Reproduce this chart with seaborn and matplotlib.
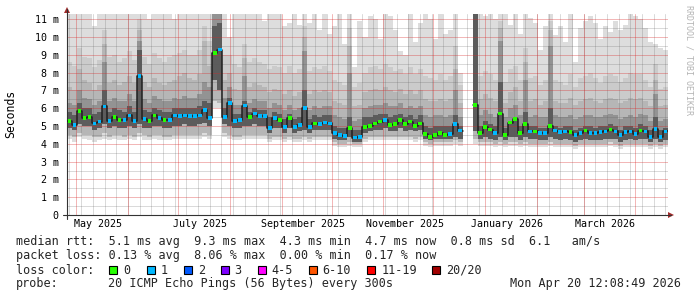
import numpy as np
import pandas as pd
import matplotlib
matplotlib.use("Agg")
import matplotlib.pyplot as plt
import matplotlib.dates as mdates
from matplotlib.patches import Polygon, Rectangle
from matplotlib.lines import Line2D
import seaborn as sns

nan = np.nan

# ---- data (milliseconds), one value per 3-day bin ----
median_ms = [5.3, 5.05, 5.85, 5.45, 5.5, 5.15, 5.25, 6.1, 5.3, 5.5,
             5.35, 5.35, 5.6, 5.3, 7.8, 5.4, 5.3, 5.6, 5.45, 5.35,
             5.35, 5.6, 5.55, 5.6, 5.55, 5.55, 5.6, 5.9, 5.45, 9.1,
             9.3, 5.5, 6.3, 5.3, 5.35, 6.15, 5.5, 5.7, 5.55, 5.55,
             4.9, 5.45, 5.35, 4.95, 5.45, 4.95, 5.05, 6.0, 4.95, 5.15,
             5.1, 5.2, 5.15, 4.6, 4.5, 4.45, 4.9, 4.35, 4.4, 4.95,
             5.0, 5.15, 5.25, 5.33, 5.05, 5.1, 5.35, 5.1, 5.25, 5.0,
             5.15, 4.55, 4.4, 4.5, 4.6, 4.5, 4.55, 5.1, 4.75, nan,
             nan, 6.2, 4.6, 4.95, 4.8, 4.6, 5.7, 4.5, 5.2, 5.4,
             4.6, 5.1, 4.7, 4.7, 4.6, 4.6, 5.0, 4.75, 4.65, 4.7,
             4.65, 4.5, 4.6, 4.75, 4.6, 4.6, 4.65, 4.7, 4.8, 4.7,
             4.5, 4.65, 4.7, 4.55, 4.75, 4.7, 4.4, 4.85, 4.4, 4.7]

loss_pings = [0, 1, 0, 0, 0, 1, 1, 1, 1, 0,
              0, 1, 1, 1, 1, 1, 0, 0, 1, 0,
              1, 1, 1, 1, 1, 1, 1, 1, 1, 0,
              1, 1, 1, 1, 1, 1, 0, 1, 1, 1,
              1, 1, 0, 1, 0, 1, 1, 1, 1, 0,
              1, 1, 1, 1, 1, 1, 0, 1, 1, 0,
              0, 0, 0, 1, 0, 0, 0, 0, 0, 0,
              0, 0, 0, 0, 0, 0, 1, 1, 1, 0,
              0, 0, 0, 0, 0, 1, 0, 0, 0, 0,
              0, 0, 1, 0, 1, 1, 0, 1, 1, 1,
              0, 1, 1, 0, 1, 1, 1, 1, 0, 1,
              1, 1, 1, 1, 0, 1, 1, 1, 1, 1]

# smoke: bottom edges
ping_min = [4.3, 4.1, 4.4, 4.3, 4.2, 4.1, 4.2, 4.3, 4.2, 4.3,
            4.2, 4.2, 4.3, 4.2, 4.4, 4.2, 4.2, 4.3, 4.2, 4.2,
            4.2, 4.3, 4.3, 4.3, 4.3, 4.3, 4.3, 4.4, 4.3, 6.0,
            6.0, 4.4, 4.3, 4.2, 4.2, 4.3, 4.3, 4.3, 4.3, 4.3,
            4.1, 4.2, 4.2, 4.1, 4.2, 4.1, 4.1, 4.2, 4.1, 4.2,
            4.2, 4.2, 4.2, 3.9, 3.8, 3.8, 3.9, 3.8, 3.8, 4.1,
            4.2, 4.2, 4.2, 4.2, 4.2, 4.2, 4.2, 4.2, 4.2, 4.1,
            4.2, 3.9, 3.8, 3.9, 3.9, 3.9, 3.9, 4.0, 3.9, nan,
            nan, 4.0, 3.9, 3.9, 3.9, 3.8, 3.9, 3.8, 3.9, 3.9,
            3.8, 3.9, 3.8, 3.8, 3.8, 3.8, 3.9, 3.8, 3.8, 3.8,
            3.8, 3.7, 3.8, 3.8, 3.8, 3.8, 3.8, 3.8, 3.9, 3.8,
            3.7, 3.8, 3.8, 3.8, 3.8, 3.8, 3.7, 3.8, 3.7, 3.8]
low_mid = [4.5, 4.4, 4.6, 4.5, 4.5, 4.4, 4.4, 4.6, 4.4, 4.5,
           4.5, 4.4, 4.5, 4.4, 4.6, 4.5, 4.4, 4.5, 4.5, 4.4,
           4.4, 4.5, 4.5, 4.5, 4.5, 4.5, 4.5, 4.6, 4.5, 6.4,
           6.3, 4.6, 4.5, 4.4, 4.4, 4.5, 4.5, 4.5, 4.5, 4.5,
           4.3, 4.4, 4.4, 4.3, 4.4, 4.3, 4.3, 4.4, 4.3, 4.4,
           4.4, 4.4, 4.4, 4.1, 4.0, 4.0, 4.1, 4.0, 4.0, 4.3,
           4.4, 4.4, 4.4, 4.4, 4.4, 4.4, 4.4, 4.4, 4.4, 4.3,
           4.4, 4.1, 4.0, 4.1, 4.1, 4.1, 4.1, 4.2, 4.1, nan,
           nan, 4.3, 4.1, 4.1, 4.1, 4.0, 4.1, 4.0, 4.1, 4.1,
           4.0, 4.1, 4.0, 4.0, 4.0, 4.0, 4.1, 4.0, 4.0, 4.0,
           4.0, 3.9, 4.0, 4.0, 4.0, 4.0, 4.0, 4.0, 4.1, 4.0,
           3.9, 4.0, 4.0, 4.0, 4.0, 4.0, 3.9, 4.0, 3.9, 4.0]
low_dark = [4.9, 4.8, 5.1, 5.0, 5.0, 4.8, 4.9, 5.1, 4.9, 5.0,
            4.9, 4.9, 5.0, 4.9, 5.1, 4.9, 4.9, 5.0, 5.0, 4.9,
            4.9, 5.0, 5.0, 5.1, 5.0, 5.0, 5.1, 5.2, 5.0, 7.6,
            7.0, 5.1, 5.0, 4.9, 4.9, 5.0, 5.0, 5.1, 5.0, 5.0,
            4.6, 4.9, 4.9, 4.6, 4.9, 4.6, 4.7, 4.8, 4.6, 4.8,
            4.8, 4.8, 4.8, 4.3, 4.2, 4.2, 4.4, 4.1, 4.1, 4.6,
            4.7, 4.8, 4.8, 4.9, 4.7, 4.7, 4.9, 4.7, 4.8, 4.7,
            4.8, 4.3, 4.2, 4.3, 4.3, 4.3, 4.3, 4.4, 4.3, nan,
            nan, 4.7, 4.3, 4.4, 4.3, 4.2, 4.4, 4.2, 4.4, 4.4,
            4.2, 4.4, 4.3, 4.3, 4.2, 4.2, 4.4, 4.3, 4.2, 4.3,
            4.2, 4.1, 4.2, 4.3, 4.2, 4.2, 4.2, 4.3, 4.3, 4.3,
            4.1, 4.2, 4.3, 4.2, 4.3, 4.3, 4.1, 4.3, 4.1, 4.2]
# smoke: top edges
high_dark = [5.8, 5.6, 6.3, 6.0, 6.0, 5.7, 5.8, 7.0, 5.8, 6.0,
             5.9, 5.8, 6.1, 5.8, 9.3, 5.9, 5.8, 6.0, 5.9, 5.8,
             5.8, 6.0, 6.0, 6.0, 6.0, 6.0, 6.1, 6.4, 6.3, 10.6,
             10.8, 6.0, 6.6, 5.7, 5.7, 6.4, 5.8, 6.0, 5.9, 5.9,
             5.5, 5.8, 5.7, 5.4, 5.7, 5.4, 5.5, 7.0, 5.4, 5.6,
             5.5, 5.6, 5.6, 5.0, 4.9, 4.9, 5.5, 4.8, 4.8, 5.5,
             5.5, 5.6, 5.7, 5.7, 5.5, 5.6, 5.7, 5.5, 5.6, 5.4,
             5.6, 5.0, 4.9, 5.0, 5.0, 5.0, 5.0, 5.6, 5.0, nan,
             nan, 11.3, 5.0, 5.3, 5.1, 5.0, 7.5, 4.9, 5.3, 5.5,
             5.0, 5.8, 5.0, 5.0, 4.9, 4.9, 6.0, 5.0, 4.9, 5.0,
             5.0, 4.8, 4.9, 5.0, 5.0, 4.9, 5.0, 5.0, 5.1, 5.0,
             4.8, 5.0, 5.0, 4.9, 5.1, 5.0, 4.8, 5.5, 4.8, 4.9]
high_mid = [6.3, 6.2, 7.0, 6.6, 6.5, 6.2, 6.4, 8.6, 6.4, 6.6,
            6.4, 6.4, 6.8, 6.4, 9.8, 6.5, 6.3, 6.7, 6.5, 6.4,
            6.4, 6.6, 6.5, 6.7, 6.6, 6.6, 6.8, 7.5, 7.2, 11.3,
            11.3, 6.6, 7.2, 6.2, 6.2, 7.8, 6.3, 6.5, 6.4, 6.4,
            6.0, 6.3, 6.2, 5.9, 6.2, 5.9, 6.0, 9.2, 5.9, 6.1,
            6.0, 6.1, 6.1, 5.6, 5.5, 5.4, 8.0, 5.3, 5.4, 6.0,
            6.1, 6.2, 6.2, 6.3, 6.1, 6.1, 6.3, 6.0, 6.1, 6.0,
            6.1, 5.6, 5.5, 5.6, 5.6, 5.5, 5.6, 7.0, 5.5, nan,
            nan, 11.3, 5.6, 5.9, 5.7, 5.5, 9.8, 5.5, 6.0, 6.2,
            5.6, 7.6, 5.5, 5.6, 5.5, 5.5, 9.5, 5.6, 5.5, 5.5,
            5.6, 5.4, 5.5, 5.6, 5.6, 5.5, 5.5, 5.6, 5.7, 5.6,
            5.4, 5.5, 5.6, 5.5, 5.7, 5.6, 5.3, 6.8, 5.3, 5.4]
high_grey = [7.2, 7.0, 8.2, 7.6, 7.4, 7.0, 7.3, 9.6, 7.4, 7.6,
             7.3, 7.5, 7.8, 7.4, 10.4, 7.5, 7.2, 7.7, 7.4, 7.3,
             7.5, 7.6, 7.8, 8.0, 7.7, 7.6, 7.9, 9.8, 8.4, 11.3,
             11.3, 7.6, 8.0, 7.1, 7.0, 8.8, 7.2, 7.4, 7.3, 7.2,
             6.9, 7.1, 7.0, 6.8, 7.0, 6.7, 6.9, 10.0, 6.8, 7.0,
             6.9, 7.0, 6.9, 6.4, 6.3, 6.2, 9.5, 6.1, 6.2, 6.9,
             7.0, 7.1, 7.0, 7.2, 7.0, 6.9, 7.1, 6.8, 7.0, 6.8,
             7.0, 6.5, 6.4, 6.4, 6.5, 6.4, 6.5, 8.2, 6.3, nan,
             nan, 11.3, 6.5, 6.8, 6.6, 6.4, 10.5, 6.3, 6.9, 7.2,
             6.4, 8.6, 6.4, 6.5, 6.2, 6.4, 10.4, 6.4, 6.3, 6.3,
             6.6, 6.2, 6.4, 6.5, 6.6, 6.4, 6.3, 6.5, 6.6, 6.5,
             6.3, 6.4, 6.6, 6.5, 6.6, 6.4, 6.1, 7.6, 6.1, 6.2]
high_light = [8.6, 8.4, 9.4, 8.9, 8.8, 8.3, 8.7, 10.4, 8.9, 9.0,
              8.6, 8.8, 9.2, 8.7, 11.0, 8.9, 8.5, 9.1, 8.8, 8.6,
              8.9, 9.0, 9.1, 9.3, 9.0, 9.0, 9.3, 10.6, 9.8, 11.3,
              11.3, 9.0, 9.0, 8.5, 8.3, 9.6, 8.6, 8.8, 8.6, 8.5,
              8.2, 8.4, 8.3, 8.0, 8.4, 8.0, 8.2, 10.6, 8.1, 8.3,
              8.2, 8.4, 8.1, 7.6, 7.5, 7.3, 10.5, 7.2, 7.4, 8.0,
              8.3, 8.4, 8.2, 8.5, 8.3, 8.1, 8.2, 7.9, 8.3, 7.9,
              8.2, 7.8, 7.7, 7.6, 7.9, 7.6, 7.8, 9.5, 7.3, nan,
              nan, 11.3, 7.8, 8.1, 7.9, 7.6, 10.9, 7.5, 8.2, 8.4,
              7.6, 9.4, 7.7, 7.8, 7.3, 7.6, 10.9, 7.6, 7.5, 7.3,
              7.9, 7.2, 7.7, 7.8, 8.0, 7.7, 7.4, 7.8, 7.9, 7.8,
              7.5, 7.7, 8.0, 7.9, 7.9, 7.6, 7.2, 8.5, 7.1, 7.2]
ping_max = [11.3, 11.3, 11.3, 11.3, 11.3, 10.6, 11.3, 11.3, 11.3, 11.3,
            11.3, 11.3, 11.3, 11.3, 11.3, 11.3, 11.0, 11.3, 11.3, 11.3,
            11.3, 11.0, 11.3, 11.3, 11.3, 11.3, 11.3, 11.3, 11.3, 11.3,
            11.3, 11.3, 10.0, 11.3, 11.3, 11.3, 11.3, 11.3, 11.3, 10.9,
            11.3, 11.3, 11.3, 10.6, 10.8, 11.3, 10.7, 11.3, 10.8, 11.3,
            10.4, 11.3, 10.2, 10.6, 11.3, 9.6, 11.3, 8.3, 10.9, 10.0,
            11.2, 11.0, 9.9, 11.3, 11.2, 10.4, 9.2, 9.0, 11.3, 9.7,
            10.8, 11.3, 11.0, 9.9, 11.3, 10.2, 10.4, 11.3, 8.0, nan,
            nan, 11.3, 11.3, 11.2, 11.3, 11.0, 11.3, 11.3, 10.7, 11.3,
            10.2, 11.3, 11.1, 10.8, 9.3, 10.6, 11.3, 10.1, 10.6, 9.7,
            11.3, 8.6, 10.5, 10.9, 11.2, 10.8, 9.9, 10.6, 10.3, 10.9,
            10.4, 10.7, 11.3, 11.2, 11.0, 10.5, 9.7, 9.6, 9.4, 9.3]

y_tick_labels = ["0", "1 m", "2 m", "3 m", "4 m", "5 m", "6 m",
                 "7 m", "8 m", "9 m", "10 m", "11 m"]
month_labels = ["May 2025", "July 2025", "September 2025",
                "November 2025", "January 2026", "March 2026"]
legend_line1 = "median rtt:  5.1 ms avg  9.3 ms max  4.3 ms min  4.7 ms now  0.8 ms sd  6.1   am/s"
legend_line2 = "packet loss: 0.13 % avg  8.06 % max  0.00 % min  0.17 % now"
loss_names = ["0", "1", "2", "3", "4-5", "6-10", "11-19", "20/20"]
loss_hex = ["#26ff00", "#00b8ff", "#0059ff", "#7e00ff", "#ff00ff",
            "#ff5500", "#ff0000", "#a10000"]
probe_text = "20 ICMP Echo Pings (56 Bytes) every 300s"
stamp_text = "Mon Apr 20 12:08:49 2026"

# ---- figure ----
W, H = 697, 297
sns.set_style("white")
plt.rcParams["font.family"] = ["DejaVu Sans Mono", "DejaVu Sans"]
fig = plt.figure(figsize=(W / 100, H / 100), dpi=100)
fig.patch.set_facecolor("white")

def fx(x):
    return x / W

def fy(y):
    return 1 - y / H

L, R, T, B = 67, 668, 14, 215
ax = fig.add_axes([fx(L), fy(B), (R - L) / W, (B - T) / H])
ax.set_facecolor("white")

start = pd.Timestamp("2025-04-25 12:08:49")
n = len(median_ms)
edges = mdates.date2num(pd.date_range(start, periods=n + 1, freq="3D"))
centers = (edges[:-1] + edges[1:]) / 2
xs = np.repeat(edges, 2)[1:-1]
YMAX = 11.3

def steps(v):
    return np.repeat(np.asarray(v, float), 2)

bands = [(ping_min, ping_max, "#dddddd"),
         (low_mid, high_light, "#cbcbcb"),
         (low_mid, high_grey, "#b6b6b6"),
         (low_dark, high_mid, "#939393"),
         (low_dark, high_dark, "#5c5c5c")]
for lo, hi, col in bands:
    ax.fill_between(xs, steps(lo), steps(hi), color=col, linewidth=0, zorder=1)

# grid over the smoke (rrdtool style: faint minor grey, faint major red)
minor_c = (0.35, 0.35, 0.35, 0.22)
major_c = (0.85, 0.15, 0.15, 0.33)
weeks = mdates.date2num(pd.date_range("2025-04-27", "2026-04-20", freq="7D"))
month_starts = mdates.date2num(pd.date_range("2025-05-01", "2026-04-01", freq="MS"))
for d in weeks:
    ax.axvline(d, color=minor_c, lw=0.72, zorder=2)
for yv in np.arange(0.5, YMAX, 1.0):
    ax.axhline(yv, color=minor_c, lw=0.72, zorder=2)
for m in month_starts:
    ax.axvline(m, color=major_c, lw=0.72, zorder=2.1)
for yv in range(1, 12):
    ax.axhline(yv, color=major_c, lw=0.72, zorder=2.1)

# median
ax.plot(xs, steps(median_ms), color="#202020", lw=1.1, zorder=3)
df = pd.DataFrame({"x": centers, "median": median_ms,
                   "loss": [str(v) for v in loss_pings]})
sns.scatterplot(data=df, x="x", y="median", hue="loss",
                palette={"0": loss_hex[0], "1": loss_hex[1]},
                marker="s", s=7, linewidth=0, legend=False, ax=ax, zorder=4)

ax.set_xlim(edges[0], edges[-1])
ax.set_ylim(0, YMAX)
ax.set_xlabel("")
ax.set_ylabel("")
ax.set_yticks(range(12))
ax.set_yticklabels(y_tick_labels)
ax.set_yticks(np.arange(0.5, YMAX, 1.0), minor=True)
ax.set_xticks(month_starts)
ax.set_xticklabels([])
ax.set_xticks(weeks, minor=True)
ax.tick_params(axis="y", which="major", direction="out", length=3, width=0.7,
               color="#555555", labelsize=7.2, pad=3, labelcolor="black")
ax.tick_params(axis="y", which="minor", direction="out", length=2, width=0.7, color="#777777")
ax.tick_params(axis="x", which="major", direction="out", length=3, width=0.7, color="#555555")
ax.tick_params(axis="x", which="minor", direction="out", length=2, width=0.7, color="#777777")
for s in ["top", "right"]:
    ax.spines[s].set_visible(False)
for s in ["left", "bottom"]:
    ax.spines[s].set_color("#333333")
    ax.spines[s].set_linewidth(0.8)

for i, lab in enumerate(month_labels):
    mpos = month_starts[2 * i] + 13
    ax.text(mpos, -(224 - B) / (B - T), lab, transform=ax.get_xaxis_transform(),
            ha="center", va="center", fontsize=7.2, color="black")

# axis extensions and arrows
axis_col = "#333333"
fig.add_artist(Line2D([fx(L), fx(L)], [fy(B + 4), fy(B)], color=axis_col, lw=0.8))
fig.add_artist(Line2D([fx(L), fx(L)], [fy(T), fy(9)], color=axis_col, lw=0.8))
fig.add_artist(Line2D([fx(63), fx(L)], [fy(B), fy(B)], color=axis_col, lw=0.8))
fig.add_artist(Line2D([fx(R), fx(671)], [fy(B), fy(B)], color=axis_col, lw=0.8))
arrow_c = "#a12a2a"
fig.add_artist(Polygon([(fx(64), fy(13)), (fx(70), fy(13)), (fx(67), fy(7))],
                       closed=True, transform=fig.transFigure, color=arrow_c, lw=0))
fig.add_artist(Polygon([(fx(668), fy(212)), (fx(668), fy(218)), (fx(674), fy(215))],
                       closed=True, transform=fig.transFigure, color=arrow_c, lw=0))

# unit label and watermark
fig.text(fx(11), fy(114), "Seconds", rotation=90, ha="center", va="center",
         fontsize=8.3, color="black")
fig.text(fx(688.5), fy(60), "RRDTOOL / TOBI OETIKER", rotation=-90, ha="center",
         va="center", fontsize=6, color="#b4b4b4")

# legend text
fs = 8.5
fig.text(fx(16), fy(241), legend_line1, fontsize=fs, ha="left", va="center")
fig.text(fx(16), fy(256), legend_line2, fontsize=fs, ha="left", va="center")
fig.text(fx(16), fy(270), "loss color:", fontsize=fs, ha="left", va="center")
box_x = [109, 147, 184, 221, 258, 309, 367, 432]
lab_x = [123, 161, 198, 234, 271, 322, 382, 446]
for bx, lx, name, col in zip(box_x, lab_x, loss_names, loss_hex):
    fig.add_artist(Rectangle((fx(bx), fy(274)), 8 / W, 8 / H, transform=fig.transFigure,
                             facecolor=col, edgecolor="black", lw=0.8))
    fig.text(fx(lx), fy(270), name, fontsize=fs, ha="left", va="center")
fig.text(fx(16), fy(284), "probe:", fontsize=fs, ha="left", va="center")
fig.text(fx(108), fy(284), probe_text, fontsize=fs, ha="left", va="center")
fig.text(fx(681), fy(284), stamp_text, fontsize=fs, ha="right", va="center")

fig.savefig("out.png", dpi=100, facecolor="white")
